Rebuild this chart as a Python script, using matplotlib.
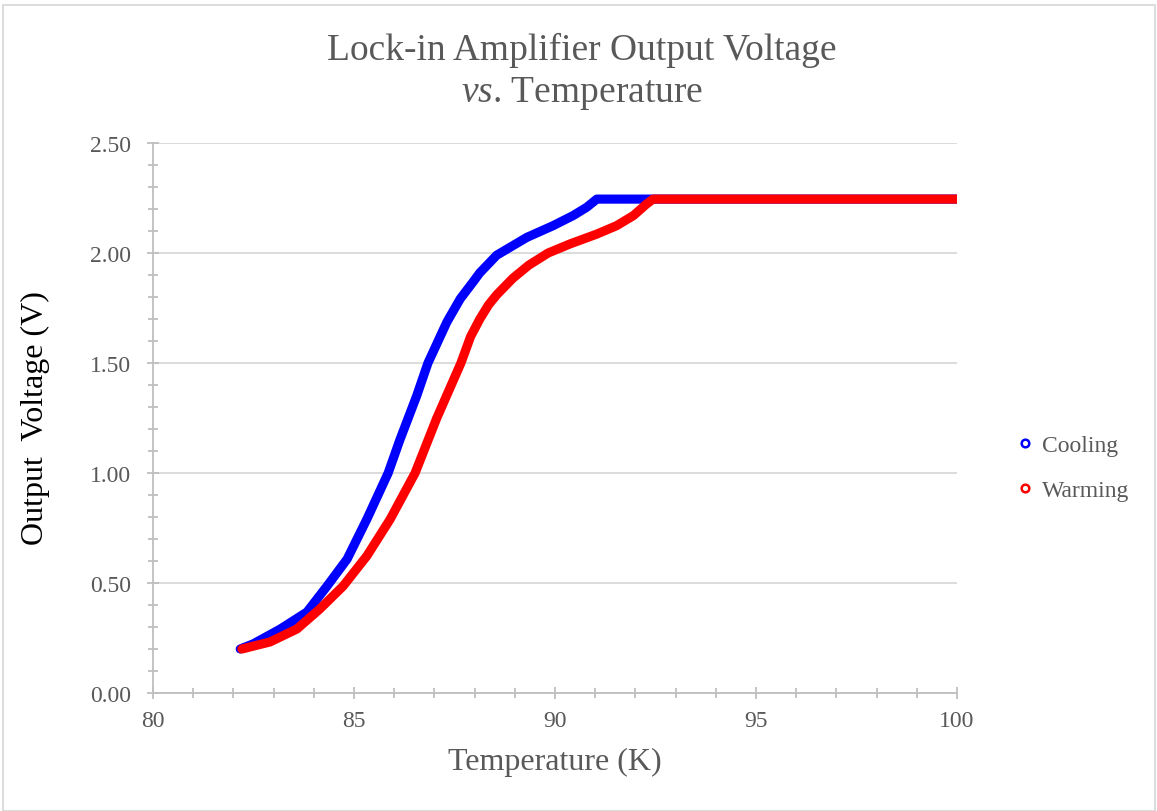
import matplotlib
matplotlib.use("Agg")
import matplotlib.pyplot as plt
from matplotlib.lines import Line2D
from matplotlib.patches import Rectangle
from matplotlib.ticker import MultipleLocator, FormatStrFormatter

plt.rcParams['mathtext.fontset'] = 'custom'
plt.rcParams['mathtext.rm'] = 'Liberation Serif'
plt.rcParams['mathtext.it'] = 'Liberation Serif:italic'

# Data
cool_T = [82.17, 82.49, 83.16, 83.83, 84.33, 84.83, 85.32, 85.85, 86.14, 86.56,
          86.84, 87.31, 87.64, 87.96, 88.13, 88.55, 89.30, 89.95, 90.45, 90.79,
          91.04, 92.0, 96.0, 100.0]
cool_V = [0.200, 0.223, 0.290, 0.368, 0.486, 0.609, 0.790, 1.000, 1.150, 1.351,
          1.500, 1.686, 1.791, 1.868, 1.910, 1.990, 2.071, 2.124, 2.170, 2.208,
          2.245, 2.245, 2.245, 2.245]

warm_T = [82.21, 82.91, 83.58, 84.15, 84.73, 85.32, 85.90, 86.52, 87.06, 87.66,
          87.90, 88.13, 88.35, 88.55, 88.95, 89.35, 89.83, 90.37, 91.04, 91.53,
          91.95, 92.28, 92.44, 96.0, 100.0]
warm_V = [0.200, 0.232, 0.291, 0.382, 0.486, 0.623, 0.790, 1.000, 1.250, 1.500,
          1.620, 1.700, 1.765, 1.810, 1.885, 1.945, 2.000, 2.041, 2.086, 2.124,
          2.170, 2.223, 2.245, 2.245, 2.245]

series_names = ["Cooling", "Warming"]
series_colors = ["#0000FF", "#FF0000"]

W, H = 1157, 812
fig = plt.figure(figsize=(W / 100, H / 100), dpi=100)
ax = fig.add_axes([153 / W, (H - 694) / H, (957 - 153) / W, (694 - 144) / H])

gray_txt = "#595959"
axis_col = "#BFBFBF"
grid_col = "#D9D9D9"
serif = 'Liberation Serif'

ax.plot(cool_T, cool_V, color=series_colors[0], lw=6.6, solid_capstyle='round',
        solid_joinstyle='round', zorder=3)
ax.plot(warm_T, warm_V, color=series_colors[1], lw=6.6, solid_capstyle='round',
        solid_joinstyle='round', zorder=4)

ax.set_xlim(80, 100)
ax.set_ylim(0, 2.5)
ax.xaxis.set_major_locator(MultipleLocator(5))
ax.xaxis.set_minor_locator(MultipleLocator(1))
ax.yaxis.set_major_locator(MultipleLocator(0.5))
ax.yaxis.set_minor_locator(MultipleLocator(0.1))
ax.yaxis.set_major_formatter(FormatStrFormatter('%.2f'))

for s in ['top', 'right']:
    ax.spines[s].set_visible(False)
for s in ['left', 'bottom']:
    ax.spines[s].set_color(axis_col)
    ax.spines[s].set_linewidth(1.3)

ax.grid(axis='y', which='major', color=grid_col, lw=1.3, zorder=0)
ax.set_axisbelow(True)

ax.tick_params(axis='both', which='both', direction='inout', color=axis_col,
               width=1.3, labelcolor=gray_txt, labelsize=17)
ax.tick_params(axis='both', which='major', length=8)
ax.tick_params(axis='both', which='minor', length=7)
ax.tick_params(axis='y', which='both', pad=12)
ax.tick_params(axis='x', which='both', pad=8)
for lab in ax.get_xticklabels() + ax.get_yticklabels():
    lab.set_fontfamily(serif)

ax.set_xlabel("Temperature (K)", fontsize=23, color=gray_txt,
              family=serif, labelpad=12)
fig.text(35 / W, (H - 418) / H, "Output  Voltage (V)", rotation=90, fontsize=23,
         color='black', family=serif, ha='center', va='center')

fig.text(582 / W, (H - 50) / H, "Lock-in Amplifier Output Voltage", fontsize=27,
         color=gray_txt, family=serif, ha='center', va='center')
fig.text(582 / W, (H - 93) / H, r"$\mathit{vs}$. Temperature", fontsize=27,
         color=gray_txt, family=serif, ha='center', va='center')

handles = [Line2D([], [], ls='none', marker='o', markersize=5.5, markerfacecolor='white',
                  markeredgecolor=c, markeredgewidth=1.8) for c in series_colors]
leg = fig.legend(handles, series_names, loc='center left',
                 bbox_to_anchor=(997 / W, (H - 469) / H), frameon=False,
                 handlelength=0.6, handletextpad=0.4, labelspacing=1.0,
                 prop={'family': serif, 'size': 17})
for t in leg.get_texts():
    t.set_color(gray_txt)

fig.patches.append(Rectangle((3 / W, 0), (W - 5) / W, (H - 6) / H,
                             transform=fig.transFigure, fill=False,
                             edgecolor=grid_col, lw=1.3))

fig.savefig("out.png", dpi=100)
